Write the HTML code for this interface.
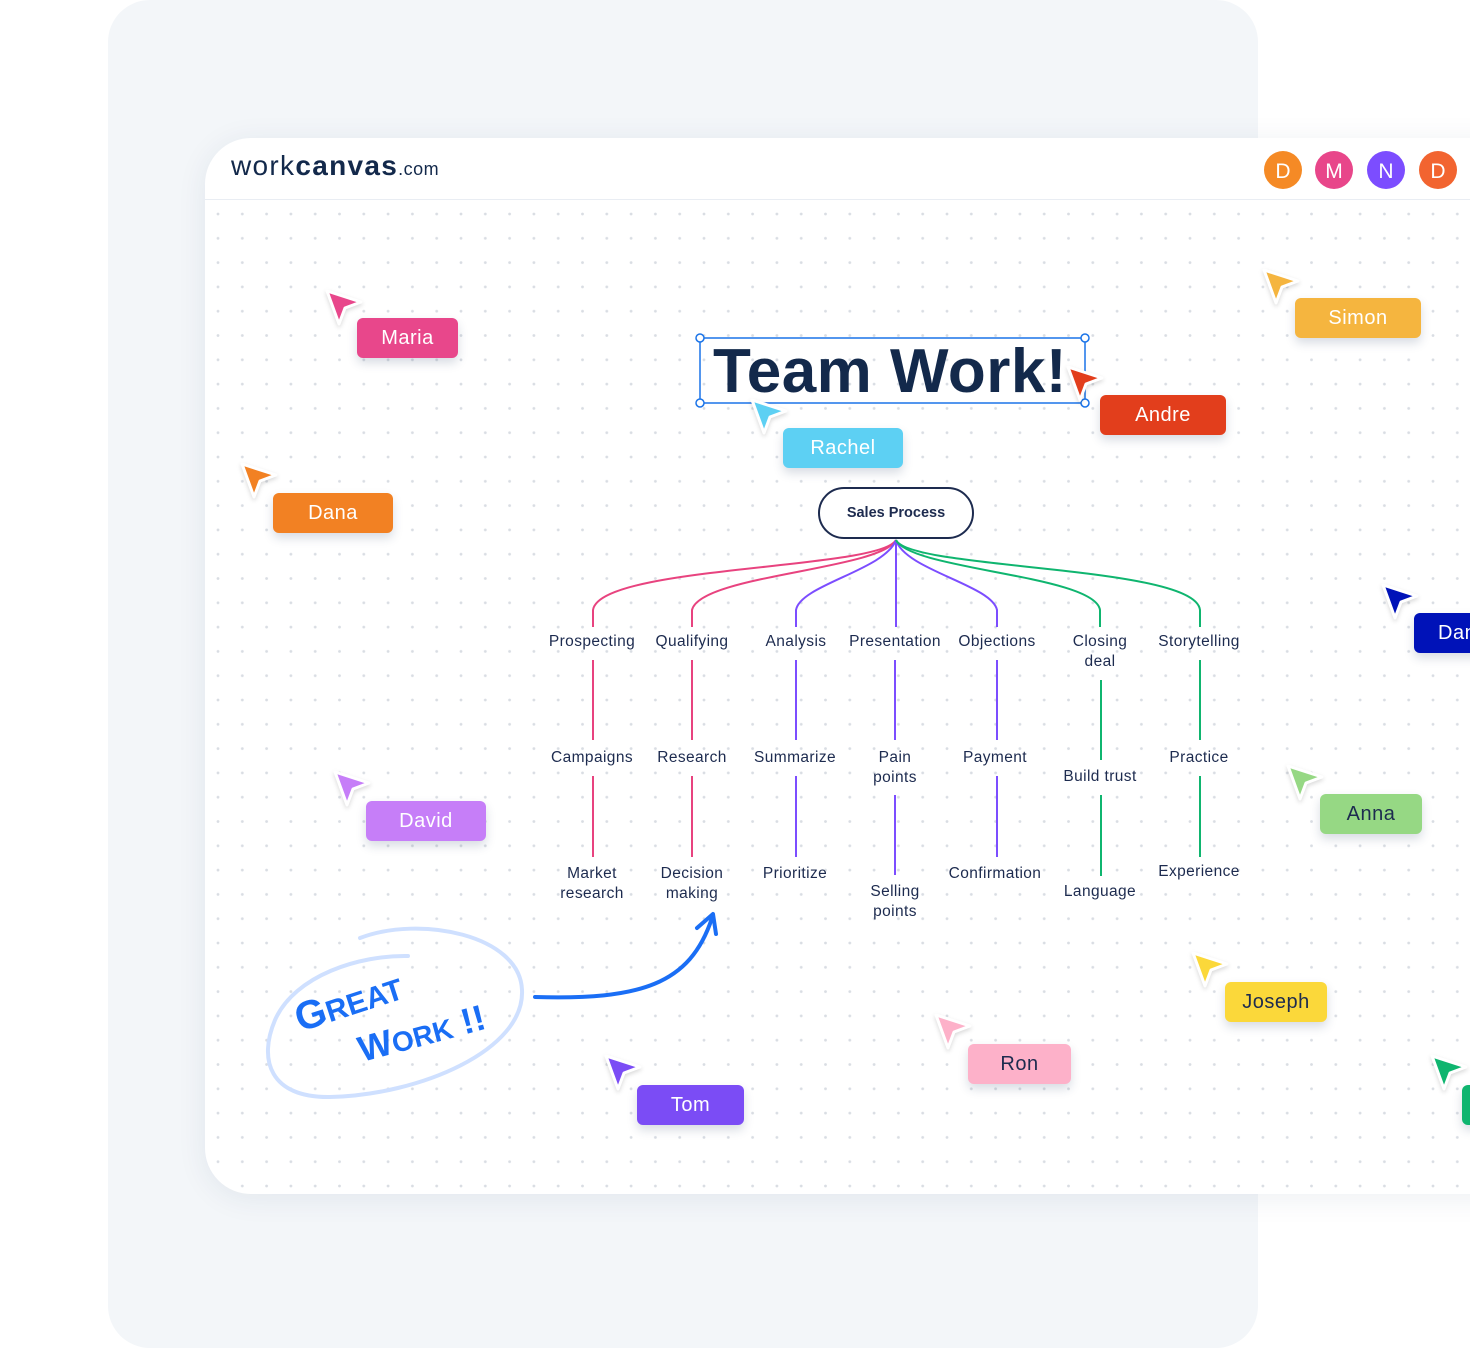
<!DOCTYPE html>
<html><head><meta charset="utf-8"><style>
*{margin:0;padding:0;box-sizing:border-box}
body{width:1470px;height:1348px;overflow:hidden;background:#fff;position:relative;font-family:"Liberation Sans",sans-serif}
.back{position:absolute;left:108px;top:0;width:1150px;height:1348px;background:#f3f6f9;border-radius:42px}
.card{position:absolute;left:205px;top:138px;width:1320px;height:1056px;background:#fff;border-radius:46px 0 0 46px;box-shadow:0 4px 30px rgba(30,50,90,.08);overflow:hidden}
.hdr{position:absolute;left:0;top:0;right:0;height:62px;border-bottom:1.5px solid #e9edf3}
.tag{position:absolute;height:40px;border-radius:6px;color:#fff;font-size:20px;display:flex;align-items:center;justify-content:center;box-shadow:0 5px 10px rgba(40,60,100,.18);letter-spacing:.5px}
.lbl{position:absolute;font-size:15.5px;color:#1d2b4f;text-align:center;line-height:20px;transform:translateX(-50%);white-space:nowrap;letter-spacing:.4px}
</style></head><body>
<div class="back"></div>
<div class="card">
<svg width="1320" height="1056" style="position:absolute;left:0;top:0">
<defs><pattern id="d" x="11" y="74" width="24.3" height="24.3" patternUnits="userSpaceOnUse"><circle cx="2" cy="2" r="1.4" fill="#d9dde3"/></pattern></defs>
<rect x="0" y="62" width="1320" height="994" fill="url(#d)"/>
</svg>
<div class="hdr"></div>
<div style="position:absolute;left:26px;top:12px;font-size:28px;color:#13294b;letter-spacing:1.3px"><span style="font-weight:300">work</span><b>canvas</b><span style="font-size:18px;letter-spacing:.5px">.com</span></div>
</div>
<svg width="1470" height="1348" style="position:absolute;left:0;top:0">
<g font-family="Liberation Sans" font-size="21" fill="#fff" text-anchor="middle">
<circle cx="1283" cy="170" r="19" fill="#f58a25"/><text x="1283" y="178">D</text>
<circle cx="1334" cy="170" r="19" fill="#e8468a"/><text x="1334" y="178">M</text>
<circle cx="1386" cy="170" r="19" fill="#7c4dff"/><text x="1386" y="178">N</text>
<circle cx="1438" cy="170" r="19" fill="#f26430"/><text x="1438" y="178">D</text>
</g>
<rect x="700" y="338" width="385" height="65" fill="none" stroke="#1a73e8" stroke-width="1.5"/>
<g fill="#fff" stroke="#1a73e8" stroke-width="1.5"><circle cx="700" cy="338" r="4"/><circle cx="1085" cy="338" r="4"/><circle cx="700" cy="403" r="4"/><circle cx="1085" cy="403" r="4"/></g>
<text x="890" y="392" text-anchor="middle" font-family="Liberation Sans" font-weight="bold" font-size="62" fill="#13294b" letter-spacing="0.5">Team Work!</text>
<rect x="819" y="488" width="154" height="50" rx="25" fill="#fff" stroke="#1d2b4f" stroke-width="2"/>
<text x="896" y="517" text-anchor="middle" font-family="Liberation Sans" font-weight="bold" font-size="14.5" fill="#1d2b4f">Sales Process</text>
<g fill="none" stroke-width="2">
<g stroke="#e8437f">
<path d="M896 540 C880 570 600 565 593 610 V627"/>
<path d="M896 540 C880 570 700 575 692 610 V627"/>
<line x1="593" y1="660" x2="593" y2="740"/><line x1="593" y1="776" x2="593" y2="857"/>
<line x1="692" y1="660" x2="692" y2="740"/><line x1="692" y1="776" x2="692" y2="857"/>
</g>
<g stroke="#7c4dff">
<path d="M896 540 C885 570 800 585 796 610 V627"/>
<path d="M896 540 V627"/>
<path d="M896 540 C905 570 992 585 997 610 V627"/>
<line x1="796" y1="660" x2="796" y2="740"/><line x1="796" y1="776" x2="796" y2="857"/>
<line x1="895" y1="660" x2="895" y2="740"/><line x1="895" y1="795" x2="895" y2="875"/>
<line x1="997" y1="660" x2="997" y2="740"/><line x1="997" y1="776" x2="997" y2="857"/>
</g>
<g stroke="#0fb56f">
<path d="M896 540 C910 570 1095 575 1100 610 V627"/>
<path d="M896 540 C910 570 1195 565 1200 610 V627"/>
<line x1="1101" y1="680" x2="1101" y2="760"/><line x1="1101" y1="795" x2="1101" y2="876"/>
<line x1="1200" y1="660" x2="1200" y2="740"/><line x1="1200" y1="776" x2="1200" y2="857"/>
</g>
</g>
<path d="M360 938 C420 915 520 935 522 990 C525 1050 420 1095 330 1097 C270 1098 258 1060 275 1020 C295 975 360 955 408 956" fill="none" stroke="#cfe0ff" stroke-width="4" stroke-linecap="round"/>
<g font-family="Liberation Sans" font-weight="bold" fill="#1a6ef5">
<text x="300" y="1032" font-size="40" transform="rotate(-18 300 1032)">G<tspan font-size="30">REAT</tspan></text>
<text x="362" y="1062" font-size="36" transform="rotate(-15 362 1062)">W<tspan font-size="28">ORK</tspan> !!</text>
</g>
<path d="M535 997 C640 1000 690 985 712 918" fill="none" stroke="#1a6ef5" stroke-width="4" stroke-linecap="round"/>
<path d="M697 928 L713 914 L716 934" fill="none" stroke="#1a6ef5" stroke-width="4" stroke-linecap="round" stroke-linejoin="round"/>
<defs><polygon id="c" points="0,0 34,11 18,17 12,33" stroke="#fff" stroke-width="3" stroke-linejoin="round" style="filter:drop-shadow(0 2px 2px rgba(0,0,0,.15))"/></defs>
<use href="#c" x="327" y="291" fill="#e8478b"/>
<use href="#c" x="242" y="464" fill="#f28123"/>
<use href="#c" x="335" y="772" fill="#c67ef8"/>
<use href="#c" x="606" y="1056" fill="#7b4cf5"/>
<use href="#c" x="936" y="1015" fill="#fdb1c9"/>
<use href="#c" x="1193" y="953" fill="#fbd83a"/>
<use href="#c" x="1288" y="766" fill="#96d884"/>
<use href="#c" x="1264" y="270" fill="#f5b53f"/>
<use href="#c" x="1383" y="585" fill="#0012b8"/>
<use href="#c" x="752" y="400" fill="#5dd0f3"/>
<use href="#c" x="1068" y="367" fill="#e23e1c"/>
<use href="#c" x="1432" y="1056" fill="#0fb56f"/>
</svg>
<div class="lbl" style="left:592px;top:632px">Prospecting</div>
<div class="lbl" style="left:692px;top:632px">Qualifying</div>
<div class="lbl" style="left:796px;top:632px">Analysis</div>
<div class="lbl" style="left:895px;top:632px">Presentation</div>
<div class="lbl" style="left:997px;top:632px">Objections</div>
<div class="lbl" style="left:1100px;top:632px">Closing<br>deal</div>
<div class="lbl" style="left:1199px;top:632px">Storytelling</div>
<div class="lbl" style="left:592px;top:748px">Campaigns</div>
<div class="lbl" style="left:692px;top:748px">Research</div>
<div class="lbl" style="left:795px;top:748px">Summarize</div>
<div class="lbl" style="left:895px;top:748px">Pain<br>points</div>
<div class="lbl" style="left:995px;top:748px">Payment</div>
<div class="lbl" style="left:1100px;top:767px">Build trust</div>
<div class="lbl" style="left:1199px;top:748px">Practice</div>
<div class="lbl" style="left:592px;top:864px">Market<br>research</div>
<div class="lbl" style="left:692px;top:864px">Decision<br>making</div>
<div class="lbl" style="left:795px;top:864px">Prioritize</div>
<div class="lbl" style="left:895px;top:882px">Selling<br>points</div>
<div class="lbl" style="left:995px;top:864px">Confirmation</div>
<div class="lbl" style="left:1100px;top:882px">Language</div>
<div class="lbl" style="left:1199px;top:862px">Experience</div>
<div class="tag" style="left:357px;top:318px;width:101px;background:#e8478b">Maria</div>
<div class="tag" style="left:273px;top:493px;width:120px;background:#f28123">Dana</div>
<div class="tag" style="left:366px;top:801px;width:120px;background:#c67ef8">David</div>
<div class="tag" style="left:637px;top:1085px;width:107px;background:#7b4cf5">Tom</div>
<div class="tag" style="left:968px;top:1044px;width:103px;background:#fdb1c9;color:#1d2b4f">Ron</div>
<div class="tag" style="left:1225px;top:982px;width:102px;background:#fbd83a;color:#1d2b4f">Joseph</div>
<div class="tag" style="left:1320px;top:794px;width:102px;background:#96d884;color:#1d2b4f">Anna</div>
<div class="tag" style="left:1295px;top:298px;width:126px;background:#f5b53f">Simon</div>
<div class="tag" style="left:1100px;top:395px;width:126px;background:#e23e1c">Andre</div>
<div class="tag" style="left:783px;top:428px;width:120px;background:#5dd0f3">Rachel</div>
<div class="tag" style="left:1414px;top:613px;width:100px;background:#0012b8;justify-content:flex-start;padding-left:24px">Dan</div>
<div class="tag" style="left:1462px;top:1085px;width:60px;background:#0fb56f"></div>
</body></html>
